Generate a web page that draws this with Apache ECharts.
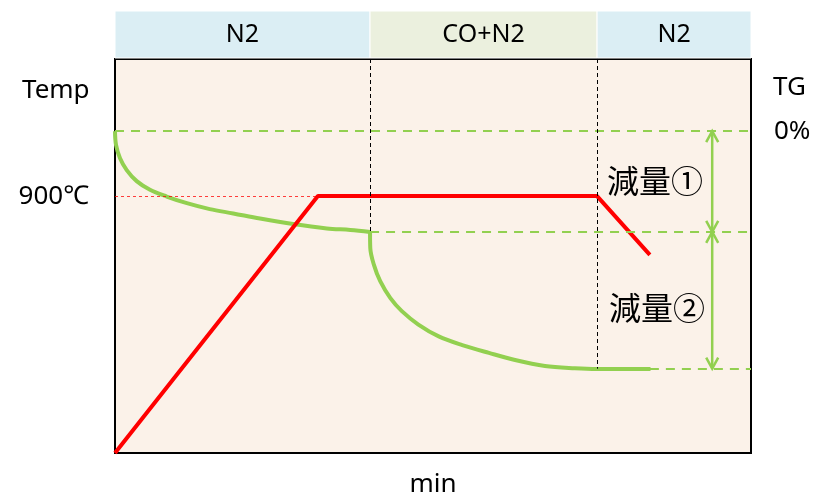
<!DOCTYPE html>
<html>
<head>
<meta charset="utf-8">
<script src="https://cdn.jsdelivr.net/npm/echarts@6/dist/echarts.min.js"></script>
<style>
  html, body { margin: 0; padding: 0; background: #fff; }
  #main { width: 815px; height: 495px; }
</style>
</head>
<body>
<div id="main"></div>
<script>
// gas phases on top (x range in %, label)
let phaseNames = ["N2", "CO+N2", "N2"]
let phaseBounds = [0, 40.1, 75.8, 100]

// temperature profile (x, y)
let tempLine = [[0, 0], [31.9, 65.2], [75.8, 65.2], [84.1, 50.3]]
let holdTemp = 65.2

// TG curve, first stage (N2) and second stage (CO+N2)
let tgStage1 = [[0, 81.7], [0.16, 78.2], [0.79, 74.8], [1.84, 71.8], [3.41, 69.0], [5.5, 66.8],
  [8.13, 65.1], [11.3, 63.4], [14.9, 61.9], [18.6, 60.8], [22.8, 59.5], [28.0, 58.1],
  [33.3, 57.0], [37.0, 56.6], [40.1, 56.1]]
let tgStage2 = [[40.1, 56.1], [40.14, 52.0], [40.7, 47.8], [41.7, 43.6], [43.3, 39.3], [45.1, 36.0],
  [47.7, 32.6], [50.9, 29.6], [54.6, 27.4], [58.8, 25.4], [62.9, 23.6], [67.6, 22.1],
  [72.3, 21.5], [75.8, 21.3], [84.2, 21.3]]

// TG levels: 0%, after loss 1, after loss 2
let tgLevels = [81.7, 56.1, 21.4]
let arrowX = 93.9
let arrows = [[arrowX, 81.7, 56.1], [arrowX, 56.1, 21.4]]

const green = "#92D050"
const red = "#FF0000"
const latin = "Noto Sans"

var myChart = echarts.init(document.getElementById('main'))

var option = {
  animation: false,
  grid: [
    { left: 115, right: 64, top: 59, bottom: 42, outerBoundsMode: 'none', show: true, backgroundColor: '#FBF2E9', borderColor: '#000', borderWidth: 2 },
    { left: 115, right: 64, top: 11, height: 47, outerBoundsMode: 'none' }
  ],
  xAxis: [
    {
      type: 'value', min: 0, max: 100, gridIndex: 0,
      axisLine: { show: false }, axisTick: { show: false }, axisLabel: { show: false }, splitLine: { show: false },
      name: 'min', nameLocation: 'middle', nameGap: 19,
      nameTextStyle: { fontFamily: latin, fontSize: 26, color: '#000' }
    },
    { type: 'value', min: 0, max: 100, gridIndex: 1, show: false }
  ],
  yAxis: [
    { type: 'value', min: 0, max: 100, gridIndex: 0, show: false },
    { type: 'value', min: 0, max: 1, gridIndex: 1, show: false }
  ],
  graphic: [
    { type: 'text', left: 22, top: 78, style: { text: 'Temp', font: '26px "Noto Sans"', fill: '#000' } },
    { type: 'text', left: 773, top: 75, style: { text: 'TG', font: '26px "Noto Sans"', fill: '#000' } },
    { type: 'text', left: 607, top: 165, style: { text: '減量①', font: '32px "Noto Sans CJK JP"', fill: '#000' } },
    { type: 'text', left: 609, top: 292, style: { text: '減量②', font: '32px "Noto Sans CJK JP"', fill: '#000' } }
  ],
  series: [
    {
      // header bands
      type: 'line', xAxisIndex: 1, yAxisIndex: 1, data: [],
      markArea: {
        silent: true,
        label: { position: 'inside', fontFamily: latin, fontSize: 25, color: '#000' },
        itemStyle: { borderColor: '#fff', borderWidth: 1 },
        data: phaseNames.map((n, i) => [
          { name: n, xAxis: phaseBounds[i], yAxis: 0, itemStyle: { color: i == 1 ? '#EBF0DE' : '#DBEEF4' } },
          { xAxis: phaseBounds[i + 1], yAxis: 1 }
        ])
      }
    },
    {
      // reference lines
      type: 'line', data: [],
      markLine: {
        silent: true, symbol: 'none',
        data: [
          [{ coord: [0, holdTemp], lineStyle: { color: 'rgba(255,0,0,0.75)', width: 1, type: [3, 3] },
             label: { show: true, position: 'start', formatter: '900℃', distance: 26, fontFamily: latin, fontSize: 26, color: '#000' } },
           { coord: [31.9, holdTemp] }],
          [{ coord: [0, tgLevels[0]], lineStyle: { color: green, width: 2, type: [9, 7] },
             label: { show: true, position: 'end', formatter: '0%', distance: 23, fontFamily: latin, fontSize: 26, color: '#000' } },
           { coord: [100, tgLevels[0]] }],
          [{ coord: [40.1, tgLevels[1]], lineStyle: { color: green, width: 2, type: [9, 7] }, label: { show: false } },
           { coord: [100, tgLevels[1]] }],
          [{ coord: [84.1, tgLevels[2]], lineStyle: { color: green, width: 2, type: [9, 7] }, label: { show: false } },
           { coord: [100, tgLevels[2]] }],
          [{ coord: [phaseBounds[1], 100], lineStyle: { color: '#000', width: 1, type: [4, 3] }, label: { show: false } },
           { coord: [phaseBounds[1], tgLevels[1]] }],
          [{ coord: [phaseBounds[2], 100], lineStyle: { color: '#000', width: 1, type: [4, 3] }, label: { show: false } },
           { coord: [phaseBounds[2], tgLevels[2]] }]
        ]
      }
    },
    {
      name: 'TG1', type: 'line', data: tgStage1, smooth: 0.35, showSymbol: false, z: 3,
      lineStyle: { color: green, width: 4 }
    },
    {
      name: 'TG2', type: 'line', data: tgStage2, smooth: 0.35, showSymbol: false, z: 3,
      lineStyle: { color: green, width: 4 }
    },
    {
      name: 'Temp', type: 'line', data: tempLine, showSymbol: false, z: 4,
      lineStyle: { color: red, width: 4 }
    },
    {
      name: 'loss', type: 'custom', data: arrows, z: 5,
      renderItem: function (params, api) {
        let x = api.value(0)
        let a = api.coord([x, api.value(1)])
        let b = api.coord([x, api.value(2)])
        let h = 6, l = 11
        let st = { stroke: green, lineWidth: 2.5, fill: null }
        return {
          type: 'group', children: [
            { type: 'line', shape: { x1: a[0], y1: a[1], x2: b[0], y2: b[1] }, style: st },
            { type: 'polyline', shape: { points: [[a[0] - h, a[1] + l], [a[0], a[1]], [a[0] + h, a[1] + l]] }, style: st },
            { type: 'polyline', shape: { points: [[b[0] - h, b[1] - l], [b[0], b[1]], [b[0] + h, b[1] - l]] }, style: st }
          ]
        }
      }
    }
  ]
}

myChart.setOption(option)
</script>
</body>
</html>
